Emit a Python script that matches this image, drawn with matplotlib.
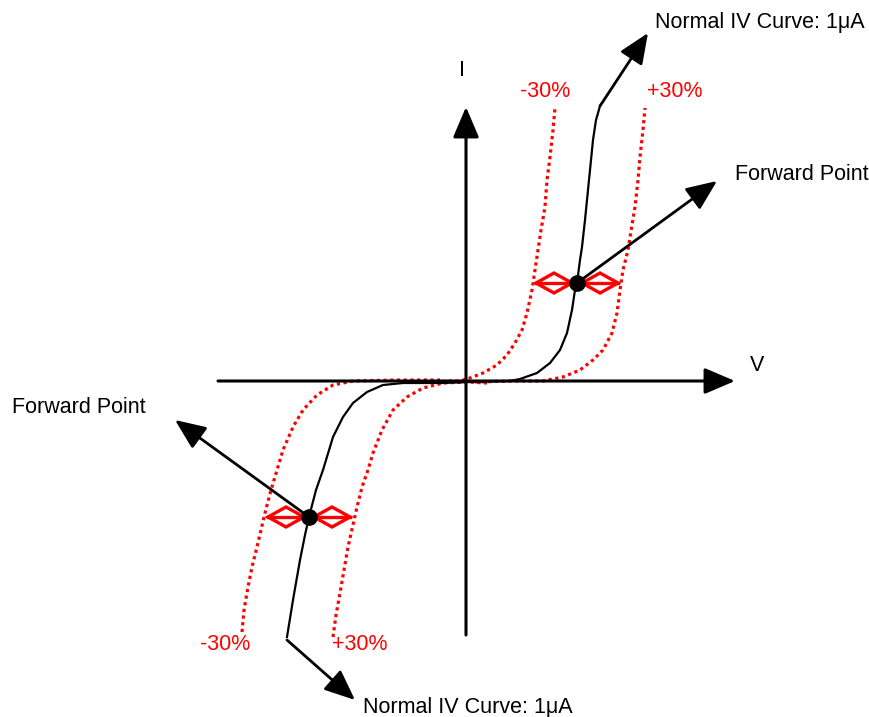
import matplotlib.pyplot as plt

plt.rcParams['font.family'] = ['Liberation Sans', 'DejaVu Sans']

# 图上的点（像素坐标，y 向下）
normal_up_x = [460, 510, 520, 537, 550, 560, 567, 572, 575, 577, 580, 582, 585, 587, 590, 593, 596, 600]
normal_up_y = [382, 381, 379, 373, 363, 350, 333, 310, 290, 283, 260, 247, 220, 200, 170, 140, 120, 106]
normal_lo_x = [287, 293, 300, 305, 309, 316, 323, 333, 343, 353, 367, 383, 403, 443, 470]
normal_lo_y = [637, 600, 560, 535, 517, 490, 470, 437, 417, 403, 392, 385, 383, 383, 382]

minus_up_x = [422, 453, 460, 470, 483, 497, 507, 515, 522, 527, 532, 535, 538, 541, 545, 547, 550, 553, 555]
minus_up_y = [382, 381, 381, 378, 373, 365, 355, 343, 330, 313, 290, 270, 250, 230, 207, 180, 157, 130, 108]
plus_up_x = [475, 513, 543, 563, 580, 593, 603, 612, 617, 620, 623, 628, 632, 635, 638, 640, 643, 645]
plus_up_y = [382, 381, 381, 377, 370, 360, 350, 333, 313, 290, 270, 250, 225, 207, 180, 157, 130, 108]
minus_lo_x = [242, 244, 248, 252, 257, 261, 265, 271, 277, 283, 293, 303, 317, 333, 353, 397, 440]
minus_lo_y = [632, 610, 587, 567, 547, 530, 513, 490, 470, 450, 427, 410, 395, 385, 381, 380, 380]
plus_lo_x = [333, 336, 340, 344, 348, 353, 357, 362, 368, 373, 382, 393, 407, 423, 443, 467, 487]
plus_lo_y = [637, 615, 593, 570, 547, 525, 507, 487, 470, 453, 430, 410, 397, 388, 383, 382, 383]

fwd_x = [577, 309]
fwd_y = [283, 517]

fig = plt.figure(figsize=(8.7, 7.17), dpi=100)
ax = fig.add_axes([0, 0, 1, 1])
ax.set_xlim(0, 870)
ax.set_ylim(717, 0)
ax.axis('off')


def arrow(x0, y0, x1, y1, lw=2.0):
    ax.annotate('', xy=(x1, y1), xytext=(x0, y0),
                arrowprops=dict(arrowstyle='-|>,head_length=0.75,head_width=0.32',
                                color='black', lw=lw, mutation_scale=25,
                                shrinkA=0, shrinkB=0))


# 坐标轴
arrow(218, 381, 735, 381, lw=2.2)
arrow(466, 635, 466, 107, lw=2.2)
ax.text(462, 76, 'I', fontsize=15.5, ha='center', va='baseline')
ax.text(750, 371, 'V', fontsize=15.5, va='baseline')

# 曲线
dot = (0, (1, 1.1))
ax.plot(minus_up_x, minus_up_y, color='red', lw=2.3, ls=dot)
ax.plot(plus_up_x, plus_up_y, color='red', lw=2.3, ls=dot)
ax.plot(minus_lo_x, minus_lo_y, color='red', lw=2.3, ls=dot)
ax.plot(plus_lo_x, plus_lo_y, color='red', lw=2.3, ls=dot)
ax.plot(normal_up_x, normal_up_y, color='black', lw=1.6)
ax.plot(normal_lo_x, normal_lo_y, color='black', lw=1.6)

# Normal IV Curve 箭头
arrow(600, 106, 648, 33)
arrow(287, 640, 355, 700)
ax.text(655, 28, 'Normal IV Curve: 1μA', fontsize=15.5, va='baseline')
ax.text(363, 713, 'Normal IV Curve: 1μA', fontsize=15.5, va='baseline')

# Forward Point 箭头
arrow(fwd_x[0], fwd_y[0], 717, 181)
arrow(fwd_x[1], fwd_y[1], 175, 420)
ax.text(735, 180, 'Forward Point', fontsize=15.5, va='baseline')
ax.text(12, 413, 'Forward Point', fontsize=15.5, va='baseline')

# 菱形
for cx, cy in zip(fwd_x, fwd_y):
    for sx in (-1, 1):
        a, b = cx + sx * 5, cx + sx * 41
        m = (a + b) / 2
        ax.plot([a, m, b, m, a], [cy, cy - 10, cy, cy + 10, cy],
                color='red', lw=2.4, solid_joinstyle='miter')
        ax.plot([a, b], [cy, cy], color='red', lw=2.4)
    ax.plot(cx, cy, 'o', color='black', ms=11, zorder=5)

# 百分比标签
ax.text(520, 97, '-30%', color='red', fontsize=15.5, va='baseline')
ax.text(647, 97, '+30%', color='red', fontsize=15.5, va='baseline')
ax.text(200, 650, '-30%', color='red', fontsize=15.5, va='baseline')
ax.text(332, 650, '+30%', color='red', fontsize=15.5, va='baseline')

fig.savefig('out.png', dpi=100)
